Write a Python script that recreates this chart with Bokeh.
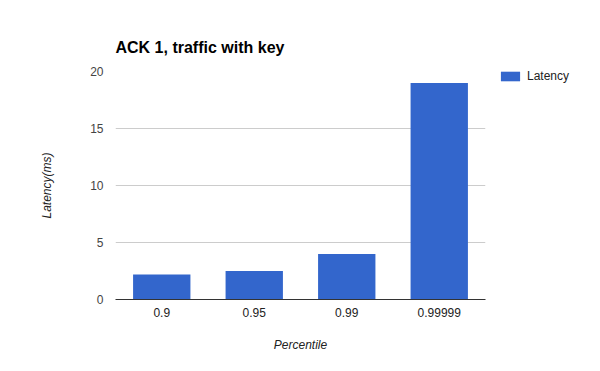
from bokeh.plotting import figure
from bokeh.models import Range1d, FactorRange, Legend, LegendItem, FixedTicker, ColumnDataSource
from bokeh.embed import file_html
from bokeh.resources import INLINE

categories = ["0.9", "0.95", "0.99", "0.99999"]
latency = [2.2, 2.5, 4.0, 19.0]
y_ticks = [0, 5, 10, 15, 20]

FONT = "Liberation Sans"

src = ColumnDataSource(data=dict(cat=categories, val=latency))

p = figure(
    frame_width=370, frame_height=228,
    x_range=FactorRange(factors=categories, range_padding=0),
    y_range=Range1d(0, 20),
    output_backend="svg", toolbar_location=None,
    min_border_left=115, min_border_right=115,
    min_border_top=71, min_border_bottom=72,
    title="ACK 1, traffic with key",
)
p.outline_line_color = None
p.background_fill_color = "white"
p.border_fill_color = "white"

p.title.text_font = FONT
p.title.text_font_size = "16px"
p.title.text_font_style = "bold"
p.title.text_color = "#000000"
p.title.align = "left"
p.title.offset = 0
p.title.standoff = 31

r = p.vbar(x="cat", top="val", width=0.62, source=src,
           fill_color="#3366cc", line_color=None)

# y axis
p.yaxis.ticker = FixedTicker(ticks=y_ticks)
p.yaxis.axis_line_color = None
p.yaxis.major_tick_line_color = None
p.yaxis.minor_tick_line_color = None
p.yaxis.major_tick_out = 0
p.yaxis.major_tick_in = 0
p.yaxis.major_label_standoff = 12
p.yaxis.major_label_text_font = FONT
p.yaxis.major_label_text_font_size = "12px"
p.yaxis.major_label_text_color = "#444444"
p.yaxis.axis_label = "Latency(ms)"
p.yaxis.axis_label_text_font = FONT
p.yaxis.axis_label_text_font_size = "12px"
p.yaxis.axis_label_text_font_style = "italic"
p.yaxis.axis_label_text_color = "#222222"
p.yaxis.axis_label_standoff = 33

# x axis
p.xaxis.axis_line_color = "#333333"
p.xaxis.axis_line_width = 1
p.xaxis.major_tick_line_color = None
p.xaxis.minor_tick_line_color = None
p.xaxis.major_tick_out = 0
p.xaxis.major_tick_in = 0
p.xaxis.major_label_standoff = 8
p.xaxis.major_label_text_font = FONT
p.xaxis.major_label_text_font_size = "12px"
p.xaxis.major_label_text_color = "#222222"
p.xaxis.axis_label = "Percentile"
p.xaxis.axis_label_text_font = FONT
p.xaxis.axis_label_text_font_size = "12px"
p.xaxis.axis_label_text_font_style = "italic"
p.xaxis.axis_label_text_color = "#222222"
p.xaxis.axis_label_standoff = 18

p.xgrid.grid_line_color = None
p.ygrid.grid_line_color = "#cccccc"

legend = Legend(
    items=[LegendItem(label="Latency", renderers=[r])],
    location=(13, 216),
    glyph_width=24, glyph_height=12, label_height=12,
    label_standoff=5, padding=0, margin=0, spacing=0,
    border_line_color=None, background_fill_alpha=0,
    label_text_font=FONT, label_text_font_size="12px",
    label_text_color="#222222",
)
p.add_layout(legend, "right")

open("out.html", "w").write(file_html(p, INLINE))
